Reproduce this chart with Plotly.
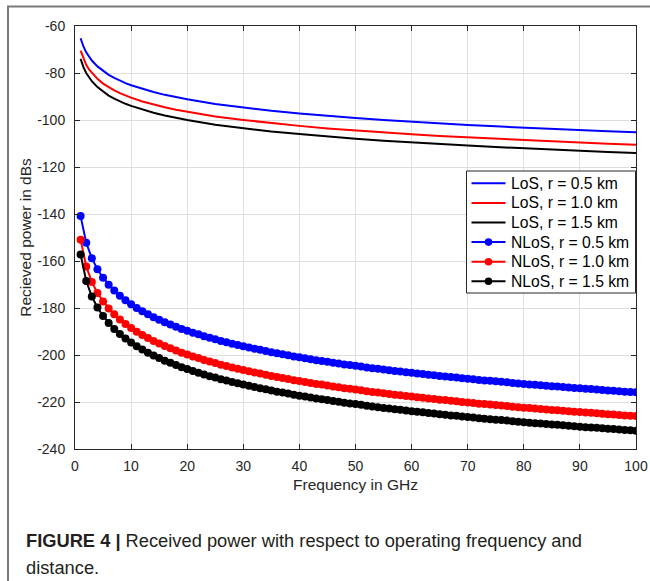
import plotly.graph_objects as go

# Frequency grids (GHz)
freq_los = [1, 1.5, 2, 2.5, 3, 4, 5, 6, 7, 8, 9, 10, 12, 14, 16, 18, 20, 25, 30, 35,
            40, 45, 50, 55, 60, 65, 70, 75, 80, 85, 90, 95, 100]
freq_nlos = list(range(1, 101))

# Line-of-sight received power (dB)
los_05 = [-65.2, -68.7, -71.2, -73.2, -74.7, -77.2, -79.2, -80.8, -82.1, -83.3, -84.3, -85.2,
          -86.8, -88.1, -89.3, -90.3, -91.2, -93.2, -94.7, -96.1, -97.2, -98.3, -99.2, -100.0,
          -100.8, -101.5, -102.1, -102.7, -103.3, -103.8, -104.3, -104.8, -105.2]
los_10 = [-70.5, -74.0, -76.5, -78.5, -80.0, -82.5, -84.5, -86.1, -87.4, -88.6, -89.6, -90.5,
          -92.1, -93.4, -94.6, -95.6, -96.5, -98.5, -100.0, -101.4, -102.5, -103.6, -104.5, -105.3,
          -106.1, -106.8, -107.4, -108.0, -108.6, -109.1, -109.6, -110.1, -110.5]
los_15 = [-74.0, -77.5, -80.0, -82.0, -83.5, -86.0, -88.0, -89.6, -90.9, -92.1, -93.1, -94.0,
          -95.6, -96.9, -98.1, -99.1, -100.0, -102.0, -103.5, -104.9, -106.0, -107.1, -108.0, -108.8,
          -109.6, -110.3, -110.9, -111.5, -112.1, -112.6, -113.1, -113.6, -114.0]

# Non-line-of-sight received power (dB), one value per GHz
nlos_05 = [-140.9, -152.2, -158.8, -163.5, -167.1, -170.1, -172.6, -174.8, -176.7, -178.4,
           -180.0, -181.4, -182.7, -183.9, -185.0, -186.1, -187.0, -188.0, -188.9, -189.7,
           -190.5, -191.2, -192.0, -192.7, -193.3, -194.0, -194.6, -195.2, -195.7, -196.3,
           -196.8, -197.3, -197.8, -198.3, -198.8, -199.3, -199.7, -200.1, -200.6, -201.0,
           -201.4, -201.8, -202.2, -202.5, -202.9, -203.3, -203.6, -204.0, -204.3, -204.6,
           -204.9, -205.3, -205.6, -205.9, -206.2, -206.5, -206.8, -207.0, -207.3, -207.6,
           -207.9, -208.1, -208.4, -208.6, -208.9, -209.1, -209.4, -209.6, -209.9, -210.1,
           -210.3, -210.6, -210.8, -211.0, -211.2, -211.4, -211.6, -211.9, -212.1, -212.3,
           -212.5, -212.7, -212.9, -213.1, -213.3, -213.4, -213.6, -213.8, -214.0, -214.2,
           -214.4, -214.5, -214.7, -214.9, -215.1, -215.2, -215.4, -215.6, -215.7, -215.9]
nlos_10 = [-151.0, -162.3, -168.9, -173.6, -177.2, -180.2, -182.7, -184.9, -186.8, -188.5,
           -190.1, -191.5, -192.8, -194.0, -195.1, -196.2, -197.1, -198.1, -199.0, -199.8,
           -200.6, -201.3, -202.1, -202.8, -203.4, -204.1, -204.7, -205.3, -205.8, -206.4,
           -206.9, -207.4, -207.9, -208.4, -208.9, -209.4, -209.8, -210.2, -210.7, -211.1,
           -211.5, -211.9, -212.3, -212.6, -213.0, -213.4, -213.7, -214.1, -214.4, -214.7,
           -215.0, -215.4, -215.7, -216.0, -216.3, -216.6, -216.9, -217.1, -217.4, -217.7,
           -218.0, -218.2, -218.5, -218.7, -219.0, -219.2, -219.5, -219.7, -220.0, -220.2,
           -220.4, -220.7, -220.9, -221.1, -221.3, -221.5, -221.7, -222.0, -222.2, -222.4,
           -222.6, -222.8, -223.0, -223.2, -223.4, -223.5, -223.7, -223.9, -224.1, -224.3,
           -224.5, -224.6, -224.8, -225.0, -225.2, -225.3, -225.5, -225.7, -225.8, -226.0]
nlos_15 = [-157.2, -168.5, -175.1, -179.8, -183.4, -186.4, -188.9, -191.1, -193.0, -194.7,
           -196.3, -197.7, -199.0, -200.2, -201.3, -202.4, -203.3, -204.3, -205.2, -206.0,
           -206.8, -207.5, -208.3, -209.0, -209.6, -210.3, -210.9, -211.5, -212.0, -212.6,
           -213.1, -213.6, -214.1, -214.6, -215.1, -215.6, -216.0, -216.4, -216.9, -217.3,
           -217.7, -218.1, -218.5, -218.8, -219.2, -219.6, -219.9, -220.3, -220.6, -220.9,
           -221.2, -221.6, -221.9, -222.2, -222.5, -222.8, -223.1, -223.3, -223.6, -223.9,
           -224.2, -224.4, -224.7, -224.9, -225.2, -225.4, -225.7, -225.9, -226.2, -226.4,
           -226.6, -226.9, -227.1, -227.3, -227.5, -227.7, -227.9, -228.2, -228.4, -228.6,
           -228.8, -229.0, -229.2, -229.4, -229.6, -229.7, -229.9, -230.1, -230.3, -230.5,
           -230.7, -230.8, -231.0, -231.2, -231.4, -231.5, -231.7, -231.9, -232.0, -232.2]

x_ticks = [0, 10, 20, 30, 40, 50, 60, 70, 80, 90, 100]
y_ticks = [-240, -220, -200, -180, -160, -140, -120, -100, -80, -60]
y_tick_text = ["-240", "-220", "-200", "-180", "-160", "-140", "-120", "-100", "-80", "-60"]

FONT = "Liberation Sans, Arial, sans-serif"
AXIS_COLOR = "#262626"

W, H = 650, 581
ML, MR, MT, MB = 75, 14, 26, 132
pw, ph = W - ML - MR, H - MT - MB


def px_x(p):
    """Pixel column -> paper x."""
    return (p - ML) / pw


def px_y(p):
    """Pixel row -> paper y."""
    return (H - MB - p) / ph


fig = go.Figure()

los_series = [("LoS, r = 0.5 km", los_05, "#0000ff"),
              ("LoS, r = 1.0 km", los_10, "#ff0000"),
              ("LoS, r = 1.5 km", los_15, "#000000")]
nlos_series = [("NLoS, r = 0.5 km", nlos_05, "#0000ff"),
               ("NLoS, r = 1.0 km", nlos_10, "#ff0000"),
               ("NLoS, r = 1.5 km", nlos_15, "#000000")]

for name, vals, col in los_series:
    fig.add_trace(go.Scatter(x=freq_los, y=vals, name=name, mode="lines",
                             line=dict(color=col, width=2), showlegend=False))
for name, vals, col in nlos_series:
    fig.add_trace(go.Scatter(x=freq_nlos, y=vals, name=name, mode="lines+markers",
                             line=dict(color=col, width=2),
                             marker=dict(color=col, size=8, line=dict(width=0)),
                             showlegend=False))

axis_common = dict(
    showline=True, linecolor=AXIS_COLOR, linewidth=1, mirror="ticks",
    ticks="inside", ticklen=5, tickwidth=1, tickcolor=AXIS_COLOR,
    showgrid=True, gridcolor="#dedede", gridwidth=1, zeroline=False,
    tickfont=dict(family=FONT, size=14, color=AXIS_COLOR),
)

fig.update_xaxes(range=[0, 100], tickvals=x_ticks, ticklabelstandoff=4,
                 title=dict(text="Frequency in GHz",
                            font=dict(family=FONT, size=15.5, color=AXIS_COLOR), standoff=6),
                 **axis_common)
fig.update_yaxes(range=[-240, -60], tickvals=y_ticks, ticktext=y_tick_text, ticklabelstandoff=6,
                 title=dict(text="Recieved power in dBs",
                            font=dict(family=FONT, size=15.5, color=AXIS_COLOR), standoff=1),
                 **axis_common)

# Boxed legend in the upper right of the axes
shapes = []
annotations = []
LEG_X0, LEG_X1, LEG_Y0, LEG_Y1 = 466.5, 635.5, 171, 293
ROW0, ROW_STEP = 183.3, 19.6
shapes.append(dict(type="rect", xref="paper", yref="paper",
                   x0=px_x(LEG_X0), x1=px_x(LEG_X1), y0=px_y(LEG_Y1), y1=px_y(LEG_Y0),
                   line=dict(color=AXIS_COLOR, width=1), fillcolor="white", layer="above"))
legend_items = [(n, c, False) for n, _, c in los_series] + [(n, c, True) for n, _, c in nlos_series]
for i, (name, col, has_marker) in enumerate(legend_items):
    yc = ROW0 + i * ROW_STEP
    shapes.append(dict(type="line", xref="paper", yref="paper",
                       x0=px_x(471.5), x1=px_x(505.5), y0=px_y(yc), y1=px_y(yc),
                       line=dict(color=col, width=2), layer="above"))
    if has_marker:
        shapes.append(dict(type="circle", xref="paper", yref="paper",
                           x0=px_x(488.5 - 3.8), x1=px_x(488.5 + 3.8),
                           y0=px_y(yc + 3.8), y1=px_y(yc - 3.8),
                           line=dict(width=0), fillcolor=col, layer="above"))
    annotations.append(dict(text=name, xref="paper", yref="paper",
                            x=px_x(508.5), y=px_y(yc), xanchor="left", yanchor="middle",
                            showarrow=False,
                            font=dict(family=FONT, size=15.7, color="#000000")))

# Outer panel frame
shapes.append(dict(type="rect", xref="paper", yref="paper",
                   x0=px_x(8), x1=px_x(654), y0=px_y(585), y1=px_y(6.5),
                   line=dict(color="#7a7a7a", width=2), layer="below"))

# Figure caption
annotations.append(dict(text="<b>FIGURE 4 |</b> Received power with respect to operating frequency and",
                        xref="paper", yref="paper", x=px_x(24), y=px_y(540),
                        xanchor="left", yanchor="middle", showarrow=False,
                        font=dict(family=FONT, size=18.3, color="#231f20")))
annotations.append(dict(text="distance.",
                        xref="paper", yref="paper", x=px_x(24), y=px_y(567),
                        xanchor="left", yanchor="middle", showarrow=False,
                        font=dict(family=FONT, size=18.3, color="#231f20")))

fig.update_layout(
    width=W, height=H,
    margin=dict(l=ML, r=MR, t=MT, b=MB, autoexpand=False),
    paper_bgcolor="white", plot_bgcolor="white",
    font=dict(family=FONT, size=14, color=AXIS_COLOR),
    showlegend=False,
    shapes=shapes,
    annotations=annotations,
)

fig.write_html("out.html")
